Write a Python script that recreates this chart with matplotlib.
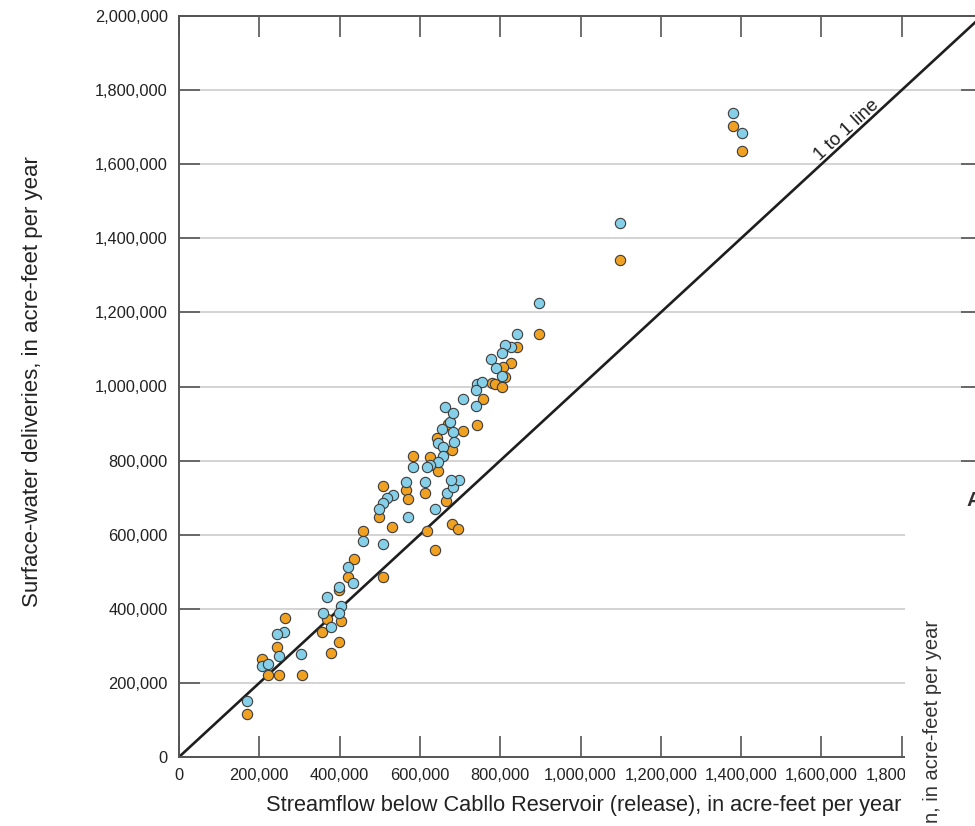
import matplotlib
matplotlib.use('Agg')
import matplotlib.pyplot as plt
from matplotlib.patches import Rectangle

plt.rcParams['font.family'] = ['Liberation Sans', 'DejaVu Sans']

# release (x) and surface-water deliveries (y), acre-feet per year
blue_x = [457500, 507000, 421700, 434000, 398500, 369400, 402700, 358000, 398500, 377800,
          262300, 243300, 248300, 303900, 207500, 222400, 170000,
          565400, 612700, 532300, 518800, 507300, 498900, 569600, 666700, 681700, 698100, 637600,
          675000, 681700, 654300, 645800, 684900, 658300, 656800, 645800, 625200, 616900, 582100, 677500,
          897400, 841100, 826900, 812000, 803700, 776300, 789500, 803700, 741500, 753900, 739700,
          708100, 739700, 662500, 683200,
          1380600, 1401500, 1098400]
blue_y = [583000, 575000, 512000, 470400, 459700, 431000, 408400, 387800, 387800, 350000,
          336600, 332000, 271800, 277200, 246400, 251000, 152000,
          743000, 743000, 707200, 698200, 686400, 668600, 648600, 711700, 729600, 747600, 669400,
          905000, 878000, 884500, 846700, 851000, 837500, 812400, 797000, 788100, 783500, 781900, 747600,
          1226200, 1141700, 1107400, 1112000, 1089600, 1075000, 1050700, 1029100, 1006700, 1013000, 990600,
          966300, 947400, 945500, 927700,
          1739000, 1683400, 1441300]

orange_x = [637600, 436000, 420200, 507000, 398500, 367900, 402700, 264000, 357000, 243300,
            398500, 377800, 207500, 220900, 248300, 305600, 170000,
            507300, 612700, 565400, 571100, 498900, 529800, 664300, 679200, 695600, 618400, 457500,
            741500, 708100, 641800, 679200, 625200, 645800, 582100, 670000,
            897400, 842600, 826200, 806200, 812000, 778800, 787000, 803700, 756400,
            1380600, 1401500, 1098400]
orange_y = [558700, 533600, 486600, 486600, 450700, 371700, 366300, 374400, 336600, 296000,
            311200, 280000, 264500, 221300, 221300, 221300, 115200,
            731400, 711700, 720600, 695500, 647000, 620000, 691800, 628900, 614600, 610800, 610800,
            896100, 880700, 860200, 828600, 808900, 772700, 812400, 899000,
            1140900, 1107400, 1064200, 1051800, 1026500, 1010300, 1006700, 997800, 966300,
            1703900, 1635600, 1341400]

ticks = [0, 200000, 400000, 600000, 800000, 1000000, 1200000, 1400000, 1600000, 1800000, 2000000]
tick_labels = ['0', '200,000', '400,000', '600,000', '800,000', '1,000,000', '1,200,000',
               '1,400,000', '1,600,000', '1,800,000', '2,000,000']

fig = plt.figure(figsize=(9.75, 8.26), dpi=100)
ax = fig.add_axes([179/975, 69/826, 803/975, 741/826])

ax.plot([0, 2100000], [0, 2100000], color='#1e1e1e', lw=1.9, zorder=2)
ax.scatter(orange_x, orange_y, s=55, color='#f0a121', edgecolor='#3c3c3c', linewidth=0.8, zorder=3)
ax.scatter(blue_x, blue_y, s=55, color='#86cfe8', edgecolor='#3c3c3c', linewidth=0.8, zorder=4)

ax.text(1664000, 1692000, '1 to 1 line', rotation=42.7, rotation_mode='anchor',
        ha='center', va='center', fontsize=13.5, color='#1e1e1e')

ax.set_xlim(0, 2000000)
ax.set_ylim(0, 2000000)
ax.set_xticks(ticks)
ax.set_xticklabels(tick_labels)
ax.set_yticks(ticks)
ax.set_yticklabels(tick_labels)
ax.tick_params(direction='in', length=15, width=1.2, color='#555555', labelsize=11.8,
               labelcolor='#222222', top=True, right=True, pad=8)
ax.yaxis.grid(True, color='#d0d0d0', lw=1.3)
ax.set_axisbelow(True)
for s in ax.spines.values():
    s.set_color('#555555')
    s.set_linewidth(1.4)

ax.set_xlabel('Streamflow below Cabllo Reservoir (release), in acre-feet per year',
              fontsize=15.7, color='#222222', va='center')
ax.xaxis.set_label_coords(0.504, -0.066)
ax.set_ylabel('Surface-water deliveries, in acre-feet per year', fontsize=16, color='#222222',
              va='center')
ax.yaxis.set_label_coords(-0.182, 0.507)

# next panel overlaps the lower right corner
fig.patches.append(Rectangle((905/975, 0), 70/975, 350/826, transform=fig.transFigure,
                             facecolor='white', edgecolor='none', zorder=5))
fig.text(932/975, 1 - 620/826, 'n, in acre-feet per year', rotation=90, ha='center', va='top',
         fontsize=14.5, color='#333333', zorder=6)
fig.text(966/975, 1 - 500/826, 'A', ha='left', va='center', fontsize=15, fontweight='bold',
         color='#333333', zorder=6)

fig.savefig('out.png', dpi=100)
